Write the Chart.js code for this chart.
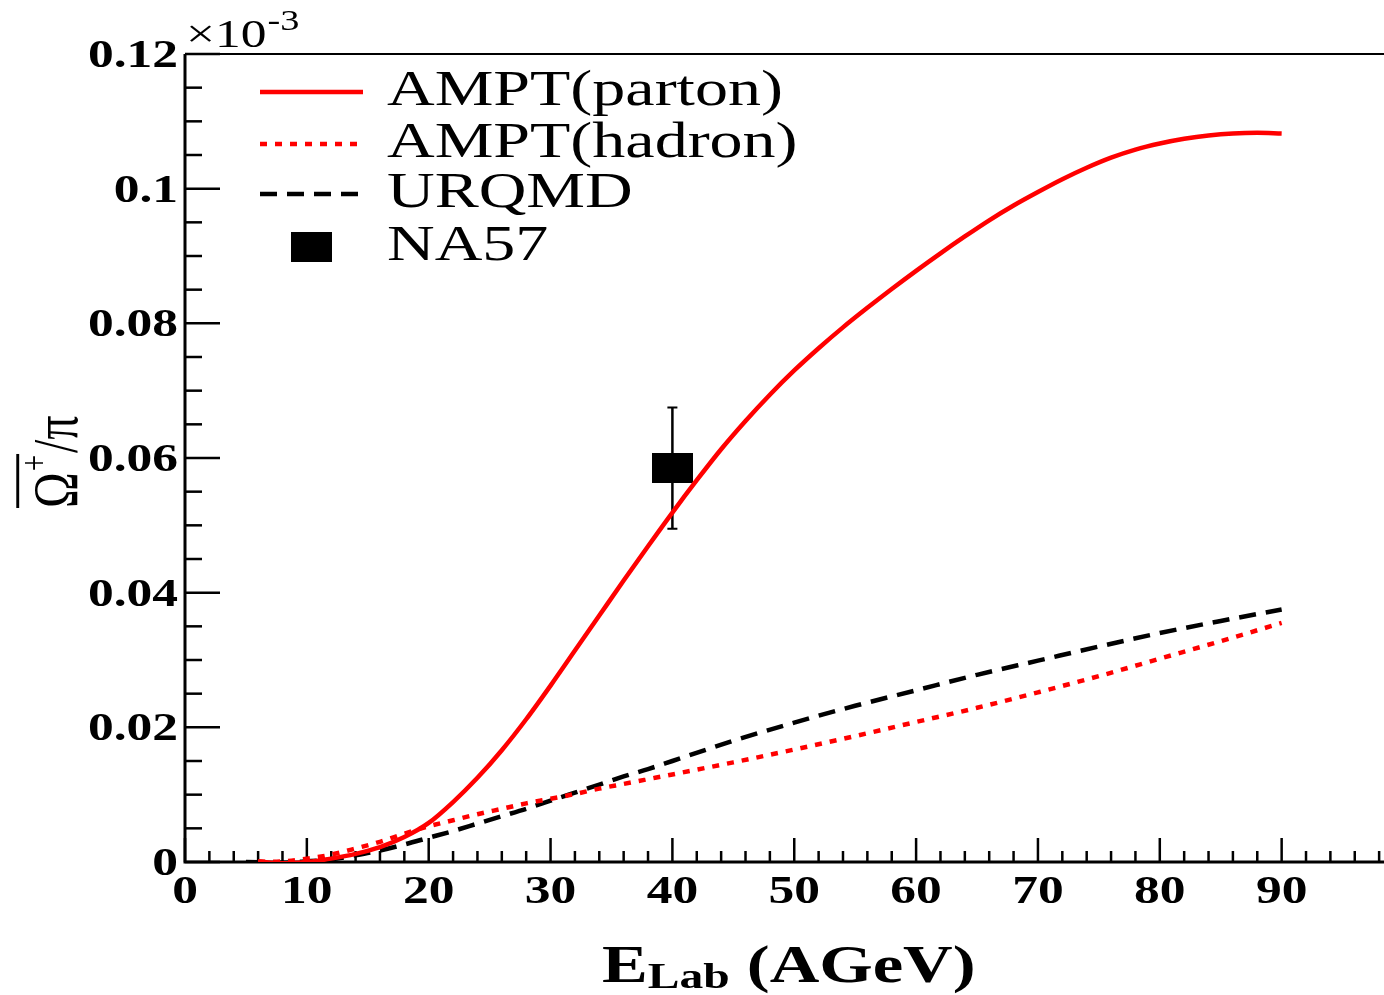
<!DOCTYPE html>
<html>
<head>
<meta charset="utf-8">
<title>Omega-bar / pi vs beam energy</title>
<script src="https://cdn.jsdelivr.net/npm/chart.js@4.4.0/dist/chart.umd.min.js"></script>
<style>
  html, body { margin: 0; padding: 0; background: #fff; overflow: hidden; }
  #wrap { width: 1384px; height: 995px; }
</style>
</head>
<body>
<div id="wrap"><canvas id="c" width="1384" height="995"></canvas></div>
<script>
// ---- data ---------------------------------------------------------------
// AMPT with string melting (parton cascade)
const partonE = [6, 8, 10, 12, 14, 16, 18, 20, 22, 24, 26, 28, 30, 32, 34, 36, 38, 40, 42, 44, 46, 48, 50,
                 52, 54, 56, 58, 60, 62, 64, 66, 68, 70, 72, 74, 76, 78, 80, 82, 84, 86, 88, 90];
const partonRatio = [0.0001, -0.0002, 0.0000, 0.0005, 0.0012, 0.0022, 0.0037, 0.0058, 0.0089, 0.0125, 0.0166,
                     0.0212, 0.0262, 0.0314, 0.0366, 0.0418, 0.0469, 0.0519, 0.0567, 0.0613, 0.0655, 0.0694,
                     0.0730, 0.0763, 0.0794, 0.0823, 0.0851, 0.0878, 0.0904, 0.0929, 0.0953, 0.0975, 0.0995,
                     0.1014, 0.1031, 0.1046, 0.1058, 0.1067, 0.1074, 0.1079, 0.1082, 0.1083, 0.1082];

// AMPT default (hadronic)
const hadronE = [6, 8, 10, 12, 14, 16, 18, 20, 22, 24, 26, 28, 30, 32, 34, 36, 38, 40, 45, 50, 55, 60, 65, 70, 75, 80, 85, 90];
const hadronRatio = [0.0000, 0.0001, 0.0005, 0.0011, 0.0020, 0.0030, 0.0042, 0.0053, 0.0062, 0.0071, 0.0079, 0.0087,
                     0.0094, 0.0101, 0.0109, 0.0116, 0.0123, 0.0130, 0.0148, 0.0167, 0.0187, 0.0208, 0.0229,
                     0.0252, 0.0276, 0.0302, 0.0328, 0.0355];

// UrQMD
const urqmdE = [5, 8, 10, 12, 14, 16, 18, 20, 22, 24, 26, 28, 30, 32, 34, 36, 38, 40, 45, 50, 55, 60, 65, 70, 75, 80, 85, 90];
const urqmdRatio = [0.0000, -0.0001, 0.0001, 0.0004, 0.0010, 0.0017, 0.0026, 0.0036, 0.0046, 0.0057, 0.0068, 0.0079,
                    0.0091, 0.0103, 0.0115, 0.0127, 0.0138, 0.0150, 0.0180, 0.0207, 0.0232, 0.0255, 0.0278,
                    0.0299, 0.0320, 0.0340, 0.0358, 0.0375];

// NA57 measurement
const na57E = [40];
const na57Ratio = [0.0585];
const na57Err = [0.0090];

// axis ticks
const xTickValues = [0, 10, 20, 30, 40, 50, 60, 70, 80, 90];
const xTickLabels = ['0', '10', '20', '30', '40', '50', '60', '70', '80', '90'];
const yTickValues = [0, 0.02, 0.04, 0.06, 0.08, 0.1, 0.12];
const yTickLabels = ['0', '0.02', '0.04', '0.06', '0.08', '0.1', '0.12'];

// ---- drawing helpers ----------------------------------------------------
const SX = 1.32;                       // horizontal text stretch
const SERIF = "'Liberation Serif','Times New Roman',serif";

function pairs(xs, ys) { return xs.map((v, i) => ({ x: v, y: ys[i] })); }

function sText(ctx, s, x, y, font, align) {
  ctx.save();
  ctx.font = font;
  ctx.textAlign = align || 'left';
  ctx.textBaseline = 'alphabetic';
  ctx.translate(x, y);
  ctx.scale(SX, 1);
  ctx.fillText(s, 0, 0);
  ctx.restore();
}
function sWidth(ctx, s, font) {
  ctx.save(); ctx.font = font;
  const w = ctx.measureText(s).width * SX;
  ctx.restore();
  return w;
}

// filled box used as the NA57 marker
const markerBox = document.createElement('canvas');
markerBox.width = 41; markerBox.height = 30;
(function () { const m = markerBox.getContext('2d'); m.fillStyle = '#000'; m.fillRect(0, 0, 41, 30); })();

const frame = {
  id: 'rootFrame',
  beforeDraw(chart) {
    const ctx = chart.ctx;
    ctx.save(); ctx.fillStyle = '#fff'; ctx.fillRect(0, 0, chart.width, chart.height); ctx.restore();
  },
  beforeDatasetsDraw(chart) {
    const { ctx, chartArea: a, scales: { x, y } } = chart;
    ctx.save();
    ctx.strokeStyle = '#000';
    ctx.fillStyle = '#000';
    ctx.lineCap = 'butt';

    // frame
    ctx.lineWidth = 3;
    ctx.beginPath();
    ctx.moveTo(a.left, a.top); ctx.lineTo(a.left, a.bottom); ctx.lineTo(a.right, a.bottom);
    ctx.stroke();
    ctx.lineWidth = 2;
    ctx.beginPath(); ctx.moveTo(a.left, a.top); ctx.lineTo(a.right, a.top); ctx.stroke();

    // x ticks (inward)
    ctx.lineWidth = 2.5;
    for (let v = 0; v <= x.max + 1e-9; v += 2) {
      const px = x.getPixelForValue(v);
      const len = (v % 10 === 0) ? 24 : 11;
      ctx.beginPath(); ctx.moveTo(px, a.bottom); ctx.lineTo(px, a.bottom - len); ctx.stroke();
    }
    // y ticks (inward)
    for (let i = 0; i <= 24; i++) {
      const v = i * 0.005;
      const py = y.getPixelForValue(v);
      const len = (i % 4 === 0) ? 35 : 17;
      ctx.beginPath(); ctx.moveTo(a.left, py); ctx.lineTo(a.left + len, py); ctx.stroke();
    }

    // tick labels
    const tickFont = 'bold 39px ' + SERIF;
    xTickValues.forEach((v, i) => sText(ctx, xTickLabels[i], x.getPixelForValue(v), 903, tickFont, 'center'));
    yTickValues.forEach((v, i) => sText(ctx, yTickLabels[i], 178, y.getPixelForValue(v) + 13, tickFont, 'right'));

    // exponent label
    const expFont = '39px ' + SERIF;
    sText(ctx, '\u00d710', 186, 47, expFont, 'left');
    const w10 = sWidth(ctx, '\u00d710', expFont);
    sText(ctx, '-3', 186 + w10 + 1, 30, '29px ' + SERIF, 'left');

    // NA57 error bar
    ctx.lineWidth = 2.5;
    na57E.forEach((e, i) => {
      const px = x.getPixelForValue(e);
      const lo = y.getPixelForValue(na57Ratio[i] - na57Err[i]);
      const hi = y.getPixelForValue(na57Ratio[i] + na57Err[i]);
      ctx.beginPath(); ctx.moveTo(px, lo); ctx.lineTo(px, hi); ctx.stroke();
      ctx.lineWidth = 2;
      ctx.beginPath();
      ctx.moveTo(px - 5, lo); ctx.lineTo(px + 5, lo);
      ctx.moveTo(px - 5, hi); ctx.lineTo(px + 5, hi);
      ctx.stroke();
    });
    ctx.restore();
  },
  afterDraw(chart) {
    const ctx = chart.ctx;
    ctx.save();
    ctx.fillStyle = '#000';

    // legend built from the datasets
    const rows = [92, 144, 194, 247];
    const legFont = '50px ' + SERIF;
    chart.data.datasets.forEach((ds, i) => {
      const ry = rows[i];
      if (ds.showLine) {
        ctx.save();
        ctx.strokeStyle = ds.borderColor;
        ctx.lineWidth = ds.borderWidth;
        ctx.setLineDash(ds.borderDash || []);
        ctx.beginPath(); ctx.moveTo(260, ry); ctx.lineTo(363, ry); ctx.stroke();
        ctx.restore();
      } else {
        ctx.drawImage(ds.pointStyle, 311 - ds.pointStyle.width / 2, ry - ds.pointStyle.height / 2);
      }
      sText(ctx, ds.label, 387, ry + 13, legFont, 'left');
    });

    // x-axis title: E_Lab (AGeV)
    const big = 'bold 52px ' + SERIF, sub = 'bold 36px ' + SERIF;
    let tx = 602;
    sText(ctx, 'E', tx, 982, big, 'left'); tx += sWidth(ctx, 'E', big);
    sText(ctx, 'Lab', tx, 988, sub, 'left'); tx += sWidth(ctx, 'Lab', sub);
    sText(ctx, ' (AGeV)', tx, 982, big, 'left');

    // y-axis title: Omega-bar^+ / pi, rotated
    const yf = '48px ' + SERIF, yfs = '29px ' + SERIF;
    ctx.save();
    ctx.translate(77, 508);
    ctx.scale(SX, 1);
    ctx.rotate(-Math.PI / 2);
    ctx.textBaseline = 'alphabetic';
    ctx.font = yf;
    ctx.fillText('\u03a9', 0, 0);
    let lx = ctx.measureText('\u03a9').width;
    ctx.font = yfs;
    ctx.fillText('+', lx + 1, -23);
    const plusW = ctx.measureText('+').width;
    ctx.fillRect(0, -46, lx + plusW + 2, 2.2);
    lx += plusW + 3;
    ctx.font = yf;
    ctx.fillText('/\u03c0', lx, 0);
    ctx.restore();

    ctx.restore();
  }
};

new Chart(document.getElementById('c'), {
  type: 'scatter',
  data: {
    datasets: [
      { label: 'AMPT(parton)', data: pairs(partonE, partonRatio), showLine: true,
        borderColor: '#ff0000', borderWidth: 4.5, pointRadius: 0, fill: false,
        cubicInterpolationMode: 'monotone' },
      { label: 'AMPT(hadron)', data: pairs(hadronE, hadronRatio), showLine: true,
        borderColor: '#ff0000', borderWidth: 4.5, borderDash: [7, 8], pointRadius: 0, fill: false,
        cubicInterpolationMode: 'monotone' },
      { label: 'URQMD', data: pairs(urqmdE, urqmdRatio), showLine: true,
        borderColor: '#000000', borderWidth: 4.5, borderDash: [17, 10], pointRadius: 0, fill: false,
        cubicInterpolationMode: 'monotone' },
      { label: 'NA57', data: pairs(na57E, na57Ratio), showLine: false,
        pointStyle: markerBox, pointRadius: 20, backgroundColor: '#000', borderColor: '#000' }
    ]
  },
  options: {
    responsive: false,
    animation: false,
    devicePixelRatio: 1,
    events: [],
    layout: { autoPadding: false, padding: { left: 185, top: 54, right: 0, bottom: 133 } },
    plugins: { legend: { display: false }, tooltip: { enabled: false } },
    scales: {
      x: { type: 'linear', min: 0, max: 98.4, display: false },
      y: { type: 'linear', min: 0, max: 0.12, display: false }
    }
  },
  plugins: [frame]
});
</script>
</body>
</html>
